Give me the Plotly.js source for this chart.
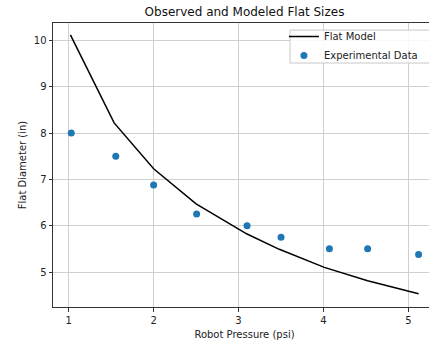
<!DOCTYPE html>
<html>
<head>
<meta charset="utf-8">
<script src="https://cdn.plot.ly/plotly-3.0.1.min.js"></script>
<style>
html,body{margin:0;padding:0;overflow:hidden;background:#fff;width:429px;height:345px;}
#chart{width:436px;height:345px;}
</style>
</head>
<body>
<div id="chart"></div>
<script>
// Flat model curve
const modelPressure = [1.02, 1.535, 2.0, 2.5, 3.1, 3.48, 4.01, 4.52, 5.12];
const modelDiameter = [10.12, 8.22, 7.23, 6.47, 5.82, 5.49, 5.10, 4.81, 4.53];
// Experimental data
const expPressure = [1.03, 1.554, 2.0, 2.506, 3.1, 3.5, 4.07, 4.52, 5.12];
const expDiameter = [8.0, 7.5, 6.88, 6.25, 6.0, 5.75, 5.5, 5.5, 5.38];
const xTicks = [1, 2, 3, 4, 5];
const yTicks = [5, 6, 7, 8, 9, 10];

const font = "DejaVu Sans, sans-serif";
const traces = [
  {x: modelPressure, y: modelDiameter, type: 'scatter', mode: 'lines', name: 'Flat Model',
   line: {color: '#000', width: 1.5}},
  {x: expPressure, y: expDiameter, type: 'scatter', mode: 'markers', name: 'Experimental Data',
   marker: {color: '#1f77b4', size: 7}}
];
const axisCommon = {
  showgrid: true, gridcolor: '#cfcfcf', gridwidth: 1,
  zeroline: false, showline: true, mirror: true, linecolor: '#333', linewidth: 1,
  ticks: 'outside', ticklen: 3.5, tickwidth: 1, tickcolor: '#333',
  tickfont: {family: font, size: 10, color: '#222'}
};
const layout = {
  width: 436, height: 345,
  margin: {l: 53, r: 0, t: 23, b: 38},
  paper_bgcolor: '#fff', plot_bgcolor: '#fff',
  title: {text: 'Observed and Modeled Flat Sizes', font: {family: font, size: 12, color: '#111'},
          xref: 'paper', x: 0.5, xanchor: 'center', yref: 'container', y: 1 - 12/345, yanchor: 'middle'},
  xaxis: Object.assign({}, axisCommon, {range: [0.815, 5.325], tickvals: xTicks, ticktext: xTicks.map(String),
          title: {text: 'Robot Pressure (psi)', font: {family: font, size: 10, color: '#222'}, standoff: 6}}),
  yaxis: Object.assign({}, axisCommon, {range: [4.244, 10.378], tickvals: yTicks, ticktext: yTicks.map(String),
          title: {text: 'Flat Diameter (in)', font: {family: font, size: 10, color: '#222'}, standoff: 5}}),
  shapes: [
    {type: 'rect', xref: 'paper', yref: 'paper', x0: 0.619, x1: 0.987, y0: 0.859, y1: 0.975,
     layer: 'above', fillcolor: 'rgba(255,255,255,0.85)', line: {color: '#c8c8c8', width: 1}}
  ],
  showlegend: true,
  legend: {x: 0.603, xanchor: 'left', y: 1.0035, yanchor: 'top',
           bgcolor: 'rgba(0,0,0,0)', borderwidth: 0,
           font: {family: font, size: 10, color: '#222'}, tracegroupgap: 0}
};
Plotly.newPlot('chart', traces, layout, {displayModeBar: false, staticPlot: true});
</script>
</body>
</html>
